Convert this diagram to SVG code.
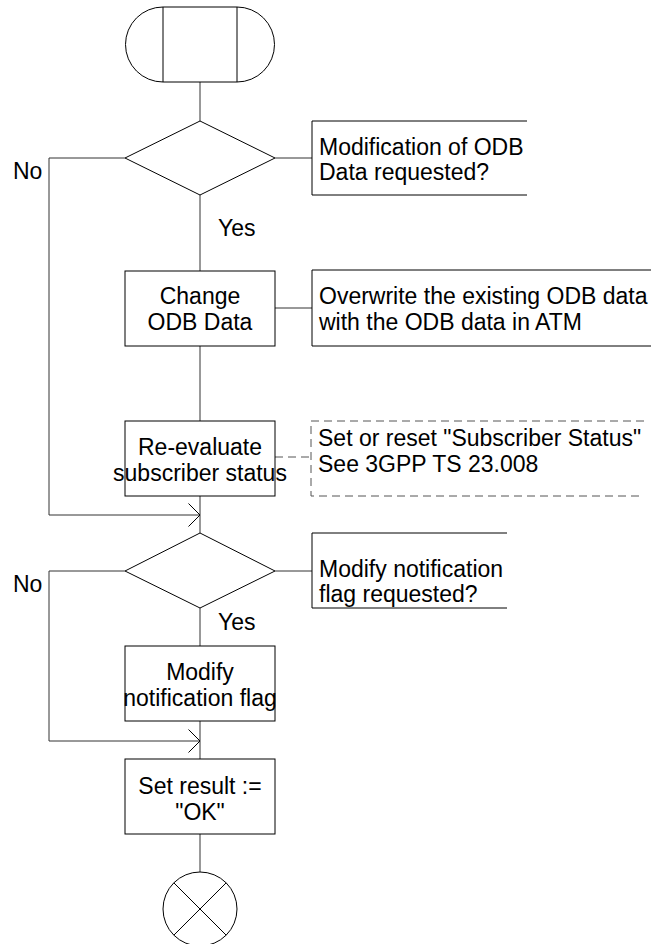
<svg xmlns="http://www.w3.org/2000/svg" width="651" height="944" viewBox="0 0 651 944">
<style>
text{font-family:"Liberation Sans",Arial,sans-serif;font-size:23px;fill:#000}
.c{text-anchor:middle}
.s{fill:#fff;stroke:#000;stroke-width:1}
.ln{fill:none;stroke:#333;stroke-width:1}
.br{fill:none;stroke:#000;stroke-width:1}
.d{fill:none;stroke:#555;stroke-width:1;stroke-dasharray:8,5}
</style>
<defs>
<marker id="arr" markerWidth="14" markerHeight="26" refX="12" refY="13" orient="auto" markerUnits="userSpaceOnUse">
<path d="M0.5,1.5 L12,13 L0.5,24.5" fill="none" stroke="#000" stroke-width="1"/>
</marker>
</defs>
<g id="connectors">
<path class="ln" d="M200,82 V121"/>
<path class="ln" d="M200,195 V271"/>
<path class="ln" d="M275,158 H312"/>
<path class="ln" d="M275,308 H312"/>
<path class="ln" d="M200,346 V421"/>
<path class="d" d="M275,457 H311"/>
<path class="ln" d="M200,496 V533"/>
<path class="ln" d="M125,158 H49 V515 H200" marker-end="url(#arr)"/>
<path class="ln" d="M275,571 H312"/>
<path class="ln" d="M200,608 V646"/>
<path class="ln" d="M200,721 V759"/>
<path class="ln" d="M125,571 H49 V741 H200" marker-end="url(#arr)"/>
<path class="ln" d="M200,834 V872"/>
</g>
<g id="start">
<path class="s" d="M163,7 H237 A37.5,37.5 0 0 1 237,82 H163 A37.5,37.5 0 0 1 163,7 Z"/>
<path class="br" d="M163,7 V82 M237,7 V82"/>
</g>
<g id="decision1">
<polygon class="s" points="200,121 275,158 200,195 125,158"/>
<text x="13" y="179">No</text>
<text x="218" y="236">Yes</text>
</g>
<g id="comment1">
<path class="br" d="M527,121 H312 V195 H527"/>
<text x="319" y="155">Modification of ODB</text>
<text x="319" y="180">Data requested?</text>
</g>
<g id="change">
<rect class="s" x="125" y="271" width="150" height="75"/>
<text class="c" x="200" y="304">Change</text>
<text class="c" x="200" y="330">ODB Data</text>
</g>
<g id="comment2">
<path class="br" d="M651,270 H312 V346 H651"/>
<text x="319" y="304">Overwrite the existing ODB data</text>
<text x="319" y="330">with the ODB data in ATM</text>
</g>
<g id="reevaluate">
<rect class="s" x="125" y="421" width="150" height="75"/>
<text class="c" x="200" y="455">Re-evaluate</text>
<text class="c" x="200" y="481">subscriber status</text>
</g>
<g id="comment3">
<path class="d" d="M644,421 H311 V496 H644"/>
<text x="318" y="446">Set or reset "Subscriber Status"</text>
<text x="318" y="472">See 3GPP TS 23.008</text>
</g>
<g id="decision2">
<polygon class="s" points="200,533 275,571 200,608 125,571"/>
<text x="13" y="592">No</text>
<text x="218" y="630">Yes</text>
</g>
<g id="comment4">
<path class="br" d="M507,533 H312 V608 H507"/>
<text x="319" y="577">Modify notification</text>
<text x="319" y="602">flag requested?</text>
</g>
<g id="modify">
<rect class="s" x="125" y="646" width="150" height="75"/>
<text class="c" x="200" y="680">Modify</text>
<text class="c" x="200" y="706">notification flag</text>
</g>
<g id="setresult">
<rect class="s" x="125" y="759" width="150" height="75"/>
<text class="c" x="200" y="794">Set result :=</text>
<text class="c" x="200" y="820">"OK"</text>
</g>
<g id="end">
<circle class="s" cx="200" cy="909" r="37"/>
<path class="br" d="M173.8,882.8 L226.2,935.2 M226.2,882.8 L173.8,935.2"/>
</g>
</svg>
